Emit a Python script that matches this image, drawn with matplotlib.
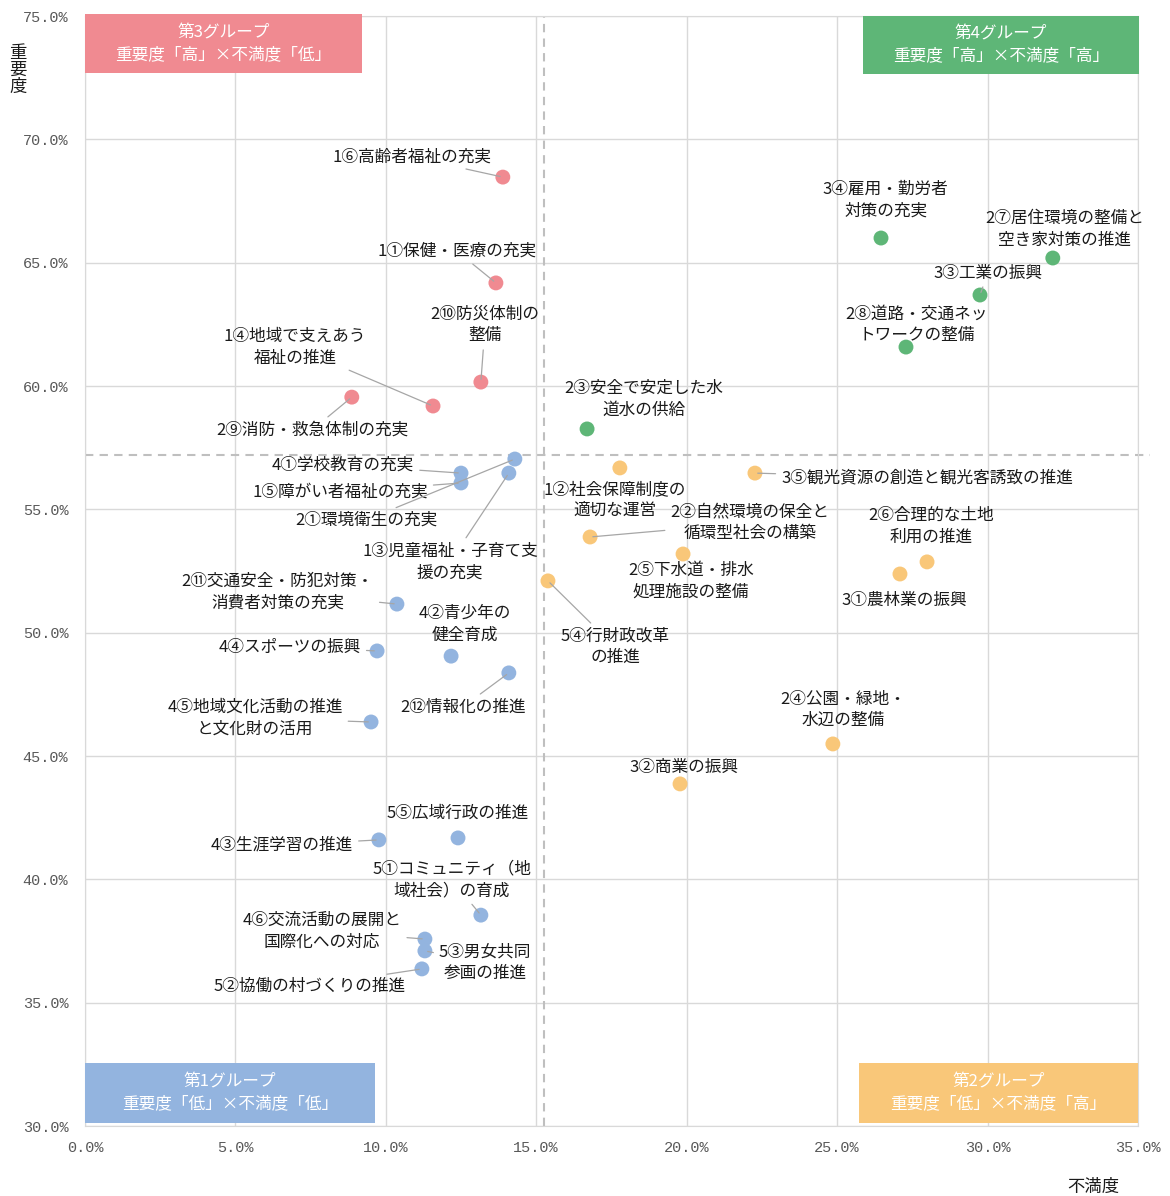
import matplotlib
matplotlib.use("Agg")
import matplotlib.pyplot as plt
from matplotlib.patches import Rectangle

plt.rcParams['font.family'] = ['Noto Sans CJK JP', 'DejaVu Sans']

# --- data (x: 不満度 %, y: 重要度 %) ---
names_g3 = ["1⑥高齢者福祉の充実", "1①保健・医療の充実", "2⑩防災体制の\n整備",
            "1④地域で支えあう\n福祉の推進", "2⑨消防・救急体制の充実"]
x_g3 = [13.89, 13.66, 13.16, 11.57, 8.87]
y_g3 = [68.47, 64.18, 60.16, 59.19, 59.55]

names_g4 = ["3④雇用・勤労者\n対策の充実", "2⑦居住環境の整備と\n空き家対策の推進", "3③工業の振興",
            "2⑧道路・交通ネッ\nトワークの整備", "2③安全で安定した水\n道水の供給"]
x_g4 = [26.46, 32.17, 29.75, 27.29, 16.69]
y_g4 = [66.00, 65.19, 63.69, 61.58, 58.26]

names_g2 = ["1②社会保障制度の\n適切な運営", "2②自然環境の保全と\n循環型社会の構築",
            "3⑤観光資源の創造と観光客誘致の推進", "2⑤下水道・排水\n処理施設の整備",
            "2⑥合理的な土地\n利用の推進", "3①農林業の振興", "5④行財政改革\nの推進",
            "2④公園・緑地・\n水辺の整備", "3②商業の振興"]
x_g2 = [17.78, 16.79, 22.27, 19.88, 27.99, 27.09, 15.39, 24.86, 19.78]
y_g2 = [56.68, 53.88, 56.47, 53.19, 52.87, 52.38, 52.10, 45.49, 43.87]

names_g1 = ["4①学校教育の充実", "1⑤障がい者福祉の充実", "2①環境衛生の充実",
            "1③児童福祉・子育て支\n援の充実", "2⑪交通安全・防犯対策・\n消費者対策の充実",
            "4④スポーツの振興", "4②青少年の\n健全育成", "2⑫情報化の推進",
            "4⑤地域文化活動の推進\nと文化財の活用", "4③生涯学習の推進", "5⑤広域行政の推進",
            "5①コミュニティ（地\n域社会）の育成", "4⑥交流活動の展開と\n国際化への対応",
            "5③男女共同\n参画の推進", "5②協働の村づくりの推進"]
x_g1 = [12.50, 12.50, 14.29, 14.09, 10.37, 9.71, 12.17, 14.09, 9.51, 9.77, 12.40,
        13.16, 11.30, 11.30, 11.20]
y_g1 = [56.47, 56.07, 57.04, 56.47, 51.16, 49.26, 49.05, 48.37, 46.38, 41.60, 41.68,
        38.55, 37.58, 37.10, 36.37]

x_mean = 15.25
y_mean = 57.2

# --- label layout: (text x, text y, leader line?) ---
lab_g3 = [(10.87, 69.28, True), (12.36, 65.47, True), (13.30, 62.47, True),
          (6.98, 61.58, True), (7.55, 58.22, True)]
lab_g4 = [(26.62, 67.54, False), (32.57, 66.36, False), (30.01, 64.58, True),
          (27.65, 62.47, False), (18.58, 59.47, False)]
lab_g2 = [(17.62, 55.38, False), (22.10, 54.45, True), (27.99, 56.27, True),
          (20.14, 52.09, False), (28.12, 54.32, False), (27.22, 51.32, False),
          (17.62, 49.42, True), (25.19, 46.87, False), (19.91, 44.55, False)]
lab_g1 = [(8.58, 56.80, True), (8.48, 55.70, True), (9.34, 54.57, True),
          (12.13, 52.86, True), (6.41, 51.65, True), (6.81, 49.42, True),
          (12.63, 50.35, False), (12.56, 46.99, True), (5.65, 46.54, True),
          (6.55, 41.39, True), (12.40, 42.69, False), (12.20, 39.97, True),
          (7.88, 37.91, True), (13.30, 36.61, True), (7.48, 35.68, True)]

c_red = '#F08A91'
c_green = '#5EB677'
c_orange = '#F9C779'
c_blue = '#93B4DF'

fig = plt.figure(figsize=(11.7, 11.96), dpi=100)
ax = fig.add_axes([0.0726, 0.0585, 0.9, 0.9281])

ax.set_xlim(0, 35)
ax.set_ylim(30, 75)
ax.set_xticks(range(0, 36, 5))
ax.set_yticks(range(30, 76, 5))
ax.set_xticklabels([f"{v:.1f}%" for v in range(0, 36, 5)])
ax.set_yticklabels([f"{v:.1f}%" for v in range(30, 76, 5)])
ax.tick_params(length=0, labelsize=11, labelcolor='#595959')
ax.tick_params(axis='x', pad=11)
ax.tick_params(axis='y', pad=12)
for lbl in ax.get_xticklabels() + ax.get_yticklabels():
    lbl.set_family('Liberation Mono')
ax.grid(True, color='#D9D9D9', lw=1)
ax.set_axisbelow(True)
for s in ax.spines.values():
    s.set_color('#D9D9D9')

ax.axvline(x_mean, color='#BFBFBF', ls='--', lw=1.5, dashes=(4, 3), zorder=1)
ax.plot([0, 35.4], [y_mean, y_mean], color='#BFBFBF', ls='--', lw=1.5, dashes=(4, 3),
        zorder=1, clip_on=False)

groups = [(names_g3, x_g3, y_g3, lab_g3, c_red),
          (names_g4, x_g4, y_g4, lab_g4, c_green),
          (names_g2, x_g2, y_g2, lab_g2, c_orange),
          (names_g1, x_g1, y_g1, lab_g1, c_blue)]

for names, xs, ys, labs, col in groups:
    ax.scatter(xs, ys, s=115, color=col, edgecolors='none', zorder=3)
    for name, x, y, (tx, ty, leader) in zip(names, xs, ys, labs):
        props = None
        if leader:
            props = dict(arrowstyle='-', color='#A6A6A6', lw=0.9, shrinkA=2, shrinkB=2)
        ax.annotate(name, xy=(x, y), xytext=(tx, ty), textcoords='data',
                    ha='center', va='center', fontsize=12, color='#1a1a1a',
                    linespacing=1.35, arrowprops=props, zorder=4)

# group boxes
boxes = [((0, 72.68), 9.21, 2.40, c_red, "第3グループ\n重要度「高」×不満度「低」"),
         ((25.86, 72.65), 9.17, 2.35, c_green, "第4グループ\n重要度「高」×不満度「高」"),
         ((0, 30.12), 9.64, 2.43, c_blue, "第1グループ\n重要度「低」×不満度「低」"),
         ((25.73, 30.12), 9.27, 2.43, c_orange, "第2グループ\n重要度「低」×不満度「高」")]
for (bx, by), w, h, col, txt in boxes:
    ax.add_patch(Rectangle((bx, by), w, h, color=col, zorder=5, clip_on=False, lw=0))
    ax.text(bx + w / 2, by + h / 2, txt, ha='center', va='center', color='white',
            fontsize=12, linespacing=1.35, zorder=6)

fig.text(18 / 1170, 1 - 70 / 1196, "重\n要\n度", ha='center', va='center',
         fontsize=12.5, linespacing=0.9, color='#1a1a1a')
fig.text(1093 / 1170, 1 - 1187 / 1196, "不満度", ha='center', va='center',
         fontsize=12.5, color='#1a1a1a')

fig.savefig('out.png', dpi=100)
